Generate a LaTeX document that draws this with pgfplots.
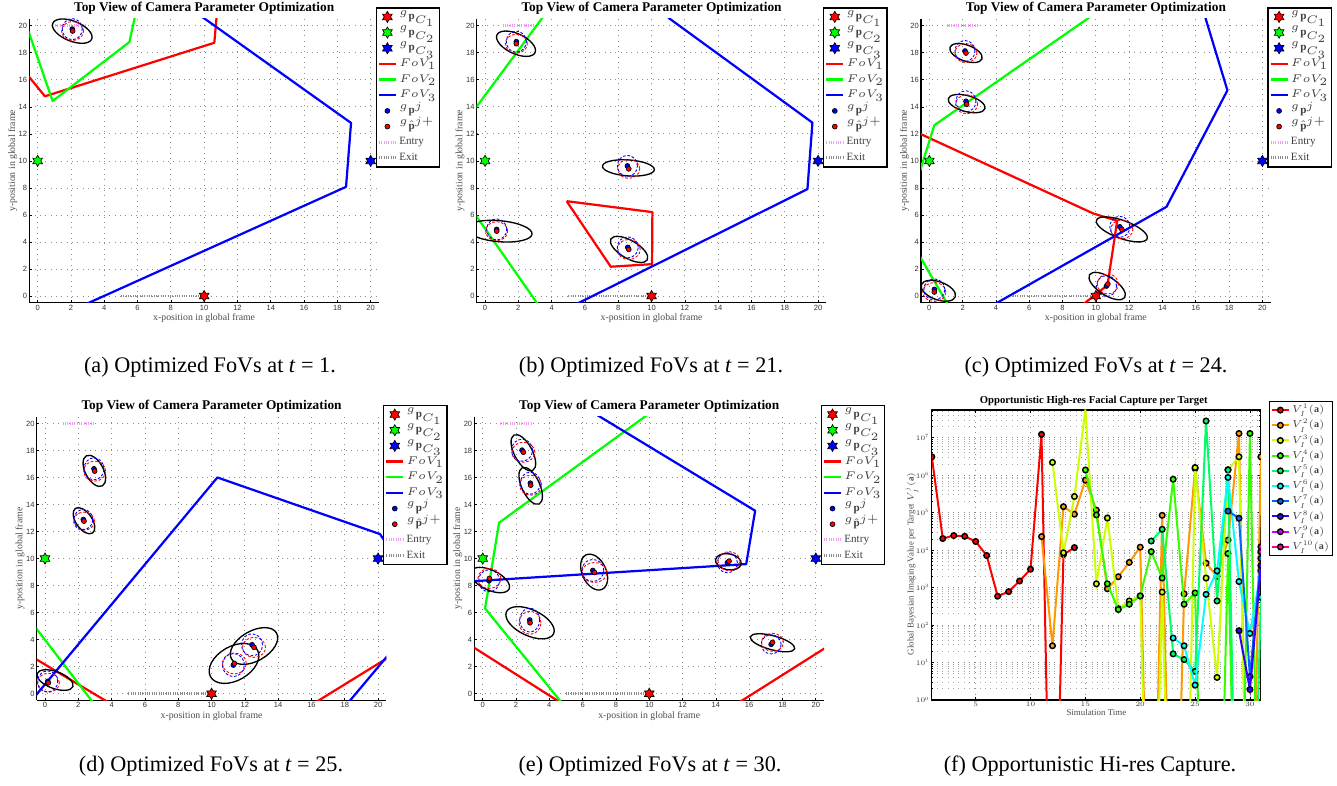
\RequirePackage{fix-cm}
\documentclass[border=0pt]{standalone}
\usepackage{pgfplots}
\pgfplotsset{compat=1.18}
\usepackage{pgfplotstable}
\usepackage{fontspec}
\setmainfont{Liberation Serif}
\newfontfamily\helv{Liberation Sans}

\definecolor{mred}{rgb}{1,0,0}
\definecolor{mgreen}{rgb}{0,1,0}
\definecolor{mblue}{rgb}{0,0,1}
\definecolor{entryc}{rgb}{0.94,0.62,0.94}
\definecolor{exitc}{rgb}{0.55,0.55,0.55}
\definecolor{c1}{rgb}{1,0,0}
\definecolor{c2}{rgb}{1,0.6,0}
\definecolor{c3}{rgb}{0.8,1,0}
\definecolor{c4}{rgb}{0.2,1,0}
\definecolor{c5}{rgb}{0,1,0.4}
\definecolor{c6}{rgb}{0,1,1}
\definecolor{c7}{rgb}{0,0.4,1}
\definecolor{c8}{rgb}{0.2,0,1}
\definecolor{c9}{rgb}{0.8,0,1}
\definecolor{c10}{rgb}{1,0,0.6}

\pgfdeclareplotmark{hexagram}{%
  \pgfpathmoveto{\pgfpointpolar{90}{\pgfplotmarksize}}%
  \pgfpathlineto{\pgfpointpolar{120}{0.577*\pgfplotmarksize}}%
  \pgfpathlineto{\pgfpointpolar{150}{\pgfplotmarksize}}%
  \pgfpathlineto{\pgfpointpolar{180}{0.577*\pgfplotmarksize}}%
  \pgfpathlineto{\pgfpointpolar{210}{\pgfplotmarksize}}%
  \pgfpathlineto{\pgfpointpolar{240}{0.577*\pgfplotmarksize}}%
  \pgfpathlineto{\pgfpointpolar{270}{\pgfplotmarksize}}%
  \pgfpathlineto{\pgfpointpolar{300}{0.577*\pgfplotmarksize}}%
  \pgfpathlineto{\pgfpointpolar{330}{\pgfplotmarksize}}%
  \pgfpathlineto{\pgfpointpolar{0}{0.577*\pgfplotmarksize}}%
  \pgfpathlineto{\pgfpointpolar{30}{\pgfplotmarksize}}%
  \pgfpathlineto{\pgfpointpolar{60}{0.577*\pgfplotmarksize}}%
  \pgfpathclose\pgfusepathqfillstroke}

% ellipse mark: semi-axes \ela, \elb in reference pixels, angle \elang (deg)
\pgfdeclareplotmark{ellip}{%
  \pgfmathsetmacro\elA{0.45*\ela}%
  \pgfmathsetmacro\elB{0.45*\elb}%
  \pgfmathsetmacro\elG{\elang}%
  \pgfpathellipse{\pgfpointorigin}%
    {\pgfpointpolar{\elG}{\elA pt}}%
    {\pgfpointpolar{\elG+90}{\elB pt}}%
  \pgfusepathqstroke}

% targets: blue dot (bx,by), estimate (hx,hy), black ellipse (kx,ky,ka,kb,kg),
% red dashed (ra,rb,rg) at estimate, blue dashed (ba,bb,bg) at blue dot
\pgfplotstableread{
bx by hx hy kx ky ka kb kg ra rb rg ba bb bg
2.08 19.75 2.10 19.61 2.08 19.60 21 10 -22 11 9.5 0 10 10.5 0
}\tgtA
\pgfplotstableread{
bx by hx hy kx ky ka kb kg ra rb rg ba bb bg
1.88 18.82 1.88 18.67 1.86 18.67 21 10 -25 11 9.5 0 10 10.5 0
8.55 9.63 8.63 9.41 8.61 9.48 26 8 -4 11 9.5 0 10 10.5 0
0.70 4.93 0.70 4.80 0.85 4.80 33 10.5 -5 11 9.5 0 10 10.5 0
8.57 3.60 8.63 3.45 8.65 3.45 21 9 -30 11.5 10 0 10.5 10.5 0
}\tgtB
\pgfplotstableread{
bx by hx hy kx ky ka kb kg ra rb rg ba bb bg
2.14 18.13 2.20 17.98 2.20 17.98 17 8 -20 11 9.5 0 10 10.5 0
2.20 14.41 2.24 14.19 2.24 14.24 19 8 -15 11 9.5 0 10 10.5 0
11.44 5.12 11.56 4.93 11.56 4.93 27 9 -20 11 9.5 0 10 10.5 0
10.64 0.74 10.72 0.89 10.68 0.74 21 9 -33 10.5 10 0 10 10.5 0
0.30 0.49 0.30 0.30 0.54 0.39 18 9 -20 11.5 9.5 0 10.5 10.5 0
}\tgtC
\pgfplotstableread{
bx by hx hy kx ky ka kb kg ra rb rg ba bb bg
2.94 16.64 2.98 16.47 2.96 16.49 17 9 -62 11 10 0 10 11 0
2.30 12.89 2.34 12.77 2.34 12.80 15 8 -55 10.5 9 0 9.5 10 0
0.16 0.91 0.20 0.81 0.60 1.01 19 8.5 -20 11 9.5 0 10 10.5 0
11.31 2.12 11.37 2.24 11.35 2.24 27 17 30 12 10.5 0 11 11.5 0
12.43 3.62 12.55 3.43 12.55 3.53 26 15 30 11.5 10 0 10.5 11 0
}\tgtD
\pgfplotstableread{
bx by hx hy kx ky ka kb kg ra rb rg ba bb bg
2.36 18.02 2.44 17.87 2.44 17.83 20 9 -62 11.5 10 0 10.5 11 0
2.86 15.58 2.88 15.43 2.88 15.38 20 9 -65 11 10 0 10 11 0
0.38 8.36 0.40 8.53 0.44 8.41 21 10 -25 11.5 10 0 10.5 11 0
6.61 9.12 6.71 8.97 6.69 9.00 19 12 -65 12.5 10 0 11 11 0
2.82 5.45 2.84 5.25 2.84 5.25 26 13 -25 11 11.5 0 10 12 0
14.69 9.69 14.79 9.81 14.75 9.76 13 8 -10 11 9.5 0 10 10 0
17.32 3.65 17.40 3.80 17.40 3.77 23 7 -15 11 9 0 10 9.5 0
}\tgtE

\pgfplotsset{
  every axis title shift=0pt,
  tv/.style={
    scale only axis, width=157.37pt, height=127.71pt, anchor=south west,
    xmin=-0.5, xmax=20.5, ymin=-0.5, ymax=20.5,
    xtick={0,2,...,20}, ytick={0,2,...,20},
    axis x line*=bottom, axis y line*=left,
    axis line style={black, line width=0.5pt, -},
    tick style={black, line width=0.3pt},
    tick align=inside, major tick length=1.2pt,
    xmajorgrids, ymajorgrids,
    grid style={dotted, black!45, line width=0.35pt},
    /pgf/number format/assume math mode=true,
    ticklabel style={font=\helv\fontsize{3.4}{4}\selectfont, text=black!80, inner sep=0.8pt},
    title={Top View of Camera Parameter Optimization},
    title style={font=\bfseries\fontsize{6}{7}\selectfont, at={(axis description cs:0.5,1.038)}, anchor=center, inner sep=0pt},
    xlabel={x-position in global frame},
    ylabel={y-position in global frame},
    label style={font=\fontsize{4.4}{5}\selectfont, text=black!70, inner sep=0pt},
    xlabel style={at={(axis description cs:0.5,-0.054)}, anchor=center},
    ylabel style={at={(axis description cs:-0.0475,0.5)}, anchor=center},
    clip marker paths=true,
    legend style={at={(axis description cs:0.9906,1.0412)}, anchor=north west, draw=black,
      line width=0.6pt, fill=white, font=\fontsize{5}{6}\selectfont, text=black!75,
      inner sep=0.5pt, row sep=0pt,
      nodes={inner xsep=0.9pt, inner ysep=1.05pt, text height=3.7pt, text depth=1.25pt, anchor=west}},
    legend cell align=left,
    legend image code/.code={\draw[mark repeat=2,mark phase=2,##1] plot coordinates {(0pt,0pt) (3.8pt,0pt) (7.6pt,0pt)};},
  },
  fov/.style={forget plot, #1, line width=1pt, line join=round},
  ellk/.style={forget plot, scatter, only marks, mark=ellip, color=black, line width=0.6pt,
    visualization depends on={\thisrow{ka}\as\ela},
    visualization depends on={\thisrow{kb}\as\elb},
    visualization depends on={\thisrow{kg}\as\elang},
    scatter/@pre marker code/.code={}, scatter/@post marker code/.code={}},
  ellr/.style={forget plot, scatter, only marks, mark=ellip, color=mred, line width=0.4pt,
    dash pattern=on 1.2pt off 0.8pt,
    visualization depends on={\thisrow{ra}\as\ela},
    visualization depends on={\thisrow{rb}\as\elb},
    visualization depends on={\thisrow{rg}\as\elang},
    scatter/@pre marker code/.code={}, scatter/@post marker code/.code={}},
  ellb/.style={forget plot, scatter, only marks, mark=ellip, color=mblue, line width=0.4pt,
    dash pattern=on 1.2pt off 0.8pt,
    visualization depends on={\thisrow{ba}\as\ela},
    visualization depends on={\thisrow{bb}\as\elb},
    visualization depends on={\thisrow{bg}\as\elang},
    scatter/@pre marker code/.code={}, scatter/@post marker code/.code={}},
  vs/.style={color=#1, line width=0.9pt, mark=*, mark size=1.25pt,
    mark options={fill=#1, draw=black, line width=0.65pt, solid}},
}

\newcommand{\toplegend}{%
  \addlegendimage{only marks, mark=hexagram, mark size=2.5pt, mark options={fill=mred, draw=black, line width=0.3pt}}
  \addlegendentry{$^g\mathbf{p}_{C_1}$}
  \addlegendimage{only marks, mark=hexagram, mark size=2.5pt, mark options={fill=mgreen, draw=black, line width=0.3pt}}
  \addlegendentry{$^g\mathbf{p}_{C_2}$}
  \addlegendimage{only marks, mark=hexagram, mark size=2.5pt, mark options={fill=mblue, draw=black, line width=0.3pt}}
  \addlegendentry{$^g\mathbf{p}_{C_3}$}
  \addlegendimage{mred, line width=1pt}
  \addlegendentry{$FoV_1$}
  \addlegendimage{mgreen, line width=1pt}
  \addlegendentry{$FoV_2$}
  \addlegendimage{mblue, line width=1pt}
  \addlegendentry{$FoV_3$}
  \addlegendimage{only marks, mark=*, mark size=1.1pt, mark options={fill=mblue, draw=black, line width=0.3pt}}
  \addlegendentry{$^g\mathbf{p}^j$}
  \addlegendimage{only marks, mark=*, mark size=1.1pt, mark options={fill=mred, draw=black, line width=0.3pt}}
  \addlegendentry{$^g\hat{\mathbf{p}}^{j+}$}
  \addlegendimage{entryc, line width=1.3pt, dash pattern=on 0.45pt off 0.6pt}
  \addlegendentry{Entry}
  \addlegendimage{exitc, line width=1.3pt, dash pattern=on 0.45pt off 0.6pt}
  \addlegendentry{Exit}
}
\newcommand{\entryexit}{%
  \addplot[forget plot, entryc, line width=1.3pt, dash pattern=on 0.45pt off 0.6pt] coordinates {(1.05,20) (2.95,20)};
  \addplot[forget plot, exitc, line width=1.3pt, dash pattern=on 0.45pt off 0.6pt] coordinates {(5,0) (9.9,0)};
}
\newcommand{\targets}[1]{%
  \addplot[ellk] table[x=kx,y=ky]{#1};
  \addplot[ellr] table[x=hx,y=hy]{#1};
  \addplot[ellb] table[x=bx,y=by]{#1};
  \addplot[forget plot, only marks, mark=*, mark size=1.1pt, mark options={fill=mblue, draw=black, line width=0.3pt}] table[x=bx,y=by]{#1};
  \addplot[forget plot, only marks, mark=*, mark size=1.1pt, mark options={fill=mred, draw=black, line width=0.3pt}] table[x=hx,y=hy]{#1};
}
\newcommand{\cameras}{%
  \addplot[forget plot, only marks, mark=hexagram, mark size=2.5pt, mark options={fill=mred, draw=black, line width=0.3pt}] coordinates {(10,0)};
  \addplot[forget plot, only marks, mark=hexagram, mark size=2.5pt, mark options={fill=mgreen, draw=black, line width=0.3pt}] coordinates {(0,10)};
  \addplot[forget plot, only marks, mark=hexagram, mark size=2.5pt, mark options={fill=mblue, draw=black, line width=0.3pt}] coordinates {(20,10)};
}

\begin{document}
\begin{tikzpicture}
\path[use as bounding box] (0,0) rectangle (601.65pt,353.25pt);

% (a)
\begin{axis}[tv, at={(13.185pt,216.99pt)}]
\toplegend
\entryexit
\addplot[fov=mred] coordinates {(-0.6,16.35) (0.44,14.78) (10.61,18.74) (10.75,20.7)};
\addplot[fov=mgreen] coordinates {(-0.6,19.77) (0.9,14.43) (5.51,18.79) (5.85,20.7)};
\addplot[fov=mblue] coordinates {(9.83,20.7) (18.82,12.81) (18.52,8.08) (2.72,-0.7)};
\targets{\tgtA}
\cameras
\end{axis}

% (b)
\begin{axis}[tv, at={(214.515pt,216.99pt)}]
\toplegend
\entryexit
\addplot[fov=mred] coordinates {(4.9,7.02) (10.05,6.21) (10.03,2.36) (7.55,2.17) (4.9,7.02)};
\addplot[fov=mgreen] coordinates {(-0.6,13.85) (3.45,20.6)};
\addplot[fov=mgreen] coordinates {(-0.6,6.05) (3.2,-0.65)};
\addplot[fov=mblue] coordinates {(11.0,20.6) (19.66,12.83) (19.36,7.91) (5.4,-0.65)};
\targets{\tgtB}
\cameras
\end{axis}

% (c)
\begin{axis}[tv, at={(414.45pt,216.99pt)}]
\toplegend
\entryexit
\addplot[fov=mred] coordinates {(-0.6,12.03) (9.84,6.11) (11.28,5.57) (10.7,0.81) (9.2,-0.65)};
\addplot[fov=mgreen] coordinates {(-0.6,9.1) (0.3,12.64) (9.44,20.47) (9.6,20.6)};
\addplot[fov=mgreen] coordinates {(-0.6,3.0) (1.1,-0.6)};
\addplot[fov=mblue] coordinates {(16.55,20.7) (17.9,15.22) (14.24,6.6) (3.85,-0.65)};
\targets{\tgtC}
\cameras
\end{axis}

% (d)
\begin{axis}[tv, at={(16.515pt,38.04pt)}]
\toplegend
\entryexit
\addplot[fov=mred] coordinates {(-0.6,2.6) (3.75,-0.6)};
\addplot[fov=mred] coordinates {(16.3,-0.6) (20.6,2.67)};
\addplot[fov=mgreen] coordinates {(-0.6,4.95) (2.85,-0.6)};
\addplot[fov=mblue] coordinates {(-0.6,-0.19) (10.35,16.0) (20.12,11.81) (20.6,10.9)};
\addplot[fov=mblue] coordinates {(18.25,-0.6) (20.6,2.85)};
\targets{\tgtD}
\cameras
\end{axis}

% (e)
\begin{axis}[tv, at={(213.48pt,38.04pt)}]
\toplegend
\entryexit
\addplot[fov=mred] coordinates {(-0.6,3.47) (4.6,-0.6)};
\addplot[fov=mred] coordinates {(15.45,-0.6) (20.6,3.41)};
\addplot[fov=mgreen] coordinates {(9.85,20.6) (0.98,12.65) (0.14,6.31) (4.7,-0.6)};
\addplot[fov=mblue] coordinates {(6.9,20.6) (16.36,13.54) (15.82,9.59) (-0.6,8.32)};
\targets{\tgtE}
\cameras
\end{axis}

% (f)
\begin{axis}[
  at={(419.31pt,38.25pt)}, anchor=south west,
  scale only axis, width=148.1pt, height=130.5pt,
  ymode=log, xmin=1, xmax=31, ymin=1, ymax=5.5e7,
  xtick={5,10,...,30},
  ytick={1,10,100,1000,1e4,1e5,1e6,1e7},
  minor ytick={2,3,4,5,6,7,8,9,20,30,40,50,60,70,80,90,200,300,400,500,600,700,800,900,2000,3000,4000,5000,6000,7000,8000,9000,2e4,3e4,4e4,5e4,6e4,7e4,8e4,9e4,2e5,3e5,4e5,5e5,6e5,7e5,8e5,9e5,2e6,3e6,4e6,5e6,6e6,7e6,8e6,9e6,2e7,3e7,4e7,5e7},
  axis line style={black, line width=0.5pt},
  tick style={black, line width=0.3pt},
  tick align=inside, major tick length=1.2pt, minor tick length=0.7pt,
  xmajorgrids, ymajorgrids, yminorgrids,
  major grid style={dotted, black!45, line width=0.35pt},
  minor grid style={dotted, black!35, line width=0.3pt},
  ticklabel style={font=\helv\fontsize{3.1}{3.6}\selectfont, text=black!80, inner sep=0.8pt},
  title={Opportunistic High-res Facial Capture per Target},
  title style={font=\bfseries\fontsize{4.8}{5.6}\selectfont, at={(axis description cs:0.492,1.031)}, anchor=center, inner sep=0pt},
  xlabel={Simulation Time},
  ylabel={Global Bayesian Imaging Value per Target $V_I^j(\mathbf{a})$},
  label style={font=\fontsize{4}{4.6}\selectfont, text=black!70, inner sep=0pt},
  xlabel style={at={(axis description cs:0.5,-0.044)}, anchor=center},
  ylabel style={at={(axis description cs:-0.061,0.47)}, anchor=center},
  clip marker paths=true,
  legend style={at={(axis description cs:1.025,1.032)}, anchor=north west, draw=black,
    line width=0.6pt, fill=white, font=\fontsize{4.5}{5.4}\selectfont, text=black!75,
    inner sep=0.5pt, row sep=0pt,
    nodes={inner xsep=0.9pt, inner ysep=1.07pt, text height=3.5pt, text depth=1.2pt, anchor=west}},
  legend cell align=left,
  legend image code/.code={\draw[mark repeat=2,mark phase=2,#1] plot coordinates {(0pt,0pt) (3.8pt,0pt) (7.6pt,0pt)};},
]
\addplot[vs=c1] coordinates {(1,3.1e6) (2,2.04e4) (3,2.45e4) (4,2.34e4) (5,1.7e4) (6,7.2e3) (7,5.9e2) (8,7.8e2) (9,1.5e3) (10,3.1e3) (11,1.23e7) (12,1e-8) (13,7.6e3) (14,1.17e4)};
\addlegendentry{$V_I^{1}(\mathbf{a})$}
\addplot[vs=c2] coordinates {(11,2.3e4) (12,28) (13,1.45e5) (14,9.1e4) (15,7.4e5) (16,1.17e5) (17,9.3e2) (18,1.95e3) (19,4.7e3) (20,1.2e4) (21,1e-8) (22,8.5e4) (23,1e-8) (24,6.8e2) (25,1.5e6) (26,4.5e3) (27,2.0e3) (28,1.85e4) (29,1.3e7) (30,1e-8) (31,3.1e6)};
\addlegendentry{$V_I^{2}(\mathbf{a})$}
\addplot[vs=c3] coordinates {(12,2.2e6) (13,8.5e3) (14,2.7e5) (15,5.7e7) (16,1.26e3) (17,7.2e4) (18,2.75e2) (19,4.4e2) (20,6.0e2) (21,1e-8) (22,7.6e2) (23,1e-8) (24,1e-8) (25,1.6e6) (26,1.8e3) (27,4.0) (28,1.4e6) (29,3.1e6) (30,1e-8)};
\addlegendentry{$V_I^{3}(\mathbf{a})$}
\addplot[vs=c4] coordinates {(15,1.38e6) (16,8.7e4) (17,1.26e3) (18,2.6e2) (19,3.6e2) (20,6.0e2) (21,9.1e3) (22,1.8e3) (23,7.8e5) (24,3.6e2) (25,7.2e2) (26,1e-8) (27,1e-8) (28,8.1e3) (29,1e-8) (30,1.3e7) (31,1e-8)};
\addlegendentry{$V_I^{4}(\mathbf{a})$}
\addplot[vs=c5] coordinates {(21,1.75e4) (22,3.6e4) (23,17) (24,12) (25,5.8) (26,2.8e7) (27,4.4e2) (28,1.38e6) (29,1e-8) (30,1e-8) (31,5.5e2)};
\addlegendentry{$V_I^{5}(\mathbf{a})$}
\addplot[vs=c6] coordinates {(23,45) (24,28) (25,2.5) (26,6.6e2) (27,2.8e3) (28,8.7e5) (29,1.45e3) (30,60) (31,2.8e3)};
\addlegendentry{$V_I^{6}(\mathbf{a})$}
\addplot[vs=c7] coordinates {(28,1.1e5) (29,7.1e4) (30,4.2) (31,6.0e3)};
\addlegendentry{$V_I^{7}(\mathbf{a})$}
\addplot[vs=c8] coordinates {(29,71) (30,1.9) (31,3.9e3)};
\addlegendentry{$V_I^{8}(\mathbf{a})$}
\addplot[vs=c9] coordinates {(31,9.0e3)};
\addlegendentry{$V_I^{9}(\mathbf{a})$}
\addplot[vs=c10] coordinates {(31,1.23e4)};
\addlegendentry{$V_I^{10}(\mathbf{a})$}
\end{axis}

% captions
\node[anchor=base, font=\fontsize{10}{12}\selectfont, inner sep=0pt] at (94.5pt,185.4pt) {(a) Optimized FoVs at \textit{t} = 1.};
\node[anchor=base, font=\fontsize{10}{12}\selectfont, inner sep=0pt] at (292.95pt,185.4pt) {(b) Optimized FoVs at \textit{t} = 21.};
\node[anchor=base, font=\fontsize{10}{12}\selectfont, inner sep=0pt] at (493.2pt,185.4pt) {(c) Optimized FoVs at \textit{t} = 24.};
\node[anchor=base, font=\fontsize{10}{12}\selectfont, inner sep=0pt] at (94.95pt,6.3pt) {(d) Optimized FoVs at \textit{t} = 25.};
\node[anchor=base, font=\fontsize{10}{12}\selectfont, inner sep=0pt] at (292.5pt,6.3pt) {(e) Optimized FoVs at \textit{t} = 30.};
\node[anchor=base, font=\fontsize{10}{12}\selectfont, inner sep=0pt] at (490.5pt,6.3pt) {(f) Opportunistic Hi-res Capture.};
\end{tikzpicture}
\end{document}
